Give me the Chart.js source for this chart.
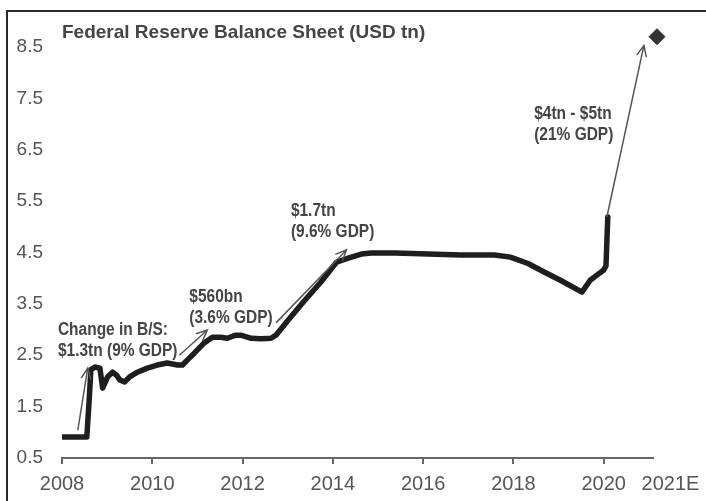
<!DOCTYPE html>
<html>
<head>
<meta charset="utf-8">
<title>Federal Reserve Balance Sheet</title>
<script src="https://cdn.jsdelivr.net/npm/chart.js@4.4.1/dist/chart.umd.min.js"></script>
<style>
    html, body { margin: 0; padding: 0; background: #fff; }
    #wrap { width: 706px; height: 501px; position: relative; }
</style>
</head>
<body>
<div id="wrap"><canvas id="fed-chart"></canvas></div>
<script>
// Balance sheet in USD tn (x = decimal year)
const years = [
    2008.00, 2008.30, 2008.55, 2008.60, 2008.64, 2008.73, 2008.84, 2008.90,
    2009.01, 2009.12, 2009.21, 2009.28, 2009.39, 2009.50, 2009.67, 2009.89,
    2010.11, 2010.33, 2010.56, 2010.67, 2010.78, 2010.93, 2011.15, 2011.33,
    2011.52, 2011.66, 2011.85, 2011.96, 2012.19, 2012.41, 2012.63, 2012.74,
    2012.98, 2013.35, 2013.73, 2014.08, 2014.34, 2014.63, 2014.85, 2015.38,
    2016.11, 2016.83, 2017.58, 2017.93, 2018.31, 2018.68, 2019.04, 2019.52,
    2019.70, 2019.85, 2020.00, 2020.05, 2020.09
];
const balance = [
    0.91, 0.91, 0.91, 1.60, 2.22, 2.27, 2.25, 1.86,
    2.08, 2.17, 2.11, 2.02, 1.98, 2.08, 2.17, 2.25,
    2.31, 2.35, 2.31, 2.31, 2.41, 2.54, 2.74, 2.85,
    2.85, 2.83, 2.89, 2.89, 2.83, 2.82, 2.83, 2.89,
    3.15, 3.54, 3.92, 4.31, 4.39, 4.47, 4.49, 4.49,
    4.47, 4.45, 4.45, 4.41, 4.29, 4.12, 3.96, 3.73,
    3.96, 4.06, 4.16, 4.24, 5.19
];

// 2021 estimate
const forecastYears = [2021.18];
const forecastValues = [8.7];

// Tick labels
const xTickValues = [2008, 2010, 2012, 2014, 2016, 2018, 2020, 2021.48];
const xTickLabels = ['2008', '2010', '2012', '2014', '2016', '2018', '2020', '2021E'];
const yTickValues = [0.5, 1.5, 2.5, 3.5, 4.5, 5.5, 6.5, 7.5, 8.5];

const chartTitle = 'Federal Reserve Balance Sheet (USD tn)';

// Notes: text lines, first baseline anchor (year, value), arrow tail and head
const noteLines = [
    ['Change in B/S:', '$1.3tn (9% GDP)'],
    ['$560bn', '(3.6% GDP)'],
    ['$1.7tn', '(9.6% GDP)'],
    ['$4tn - $5tn', '(21% GDP)']
];
const noteAnchors = [[2007.91, 2.89], [2010.82, 3.54], [2013.07, 5.21], [2018.46, 7.10]];
const arrowFrom = [[2008.35, 1.04], [2010.60, 2.50], [2012.74, 3.13], [2020.07, 5.19]];
const arrowTo = [[2008.57, 2.25], [2011.22, 2.99], [2014.30, 4.55], [2020.89, 8.53]];

const FONT = "'Liberation Sans Narrow', 'Arial Narrow', 'Liberation Sans', Arial, sans-serif";
const TEXT_COLOR = '#4d4d4d';

Chart.defaults.font.family = FONT;
Chart.defaults.color = TEXT_COLOR;

// Frame, title, notes and arrows
const notesPlugin = {
    id: 'notes',
    afterDraw(chart) {
        const ctx = chart.ctx;
        const xs = chart.scales.x;
        const ys = chart.scales.y;
        ctx.save();

        // frame
        ctx.strokeStyle = '#2a2a2a';
        ctx.lineWidth = 2;
        ctx.beginPath();
        ctx.moveTo(7, chart.height);
        ctx.lineTo(7, 11);
        ctx.lineTo(chart.width, 11);
        ctx.stroke();

        // title
        ctx.fillStyle = '#454545';
        ctx.font = 'bold 19px ' + FONT;
        ctx.textAlign = 'left';
        ctx.textBaseline = 'alphabetic';
        ctx.fillText(chartTitle, 62, 38);

        // notes (squeezed a little, the original face is a narrow one)
        ctx.font = 'bold 18px ' + FONT;
        noteLines.forEach((lines, i) => {
            const x = xs.getPixelForValue(noteAnchors[i][0]);
            const y = ys.getPixelForValue(noteAnchors[i][1]);
            lines.forEach((t, j) => {
                ctx.save();
                ctx.translate(x, y + j * 21);
                ctx.scale(0.86, 1);
                ctx.fillText(t, 0, 0);
                ctx.restore();
            });
        });

        // arrows
        ctx.strokeStyle = '#555';
        ctx.lineWidth = 1.5;
        arrowFrom.forEach((from, i) => {
            const x1 = xs.getPixelForValue(from[0]);
            const y1 = ys.getPixelForValue(from[1]);
            const x2 = xs.getPixelForValue(arrowTo[i][0]);
            const y2 = ys.getPixelForValue(arrowTo[i][1]);
            const a = Math.atan2(y2 - y1, x2 - x1);
            const head = 12;
            ctx.beginPath();
            ctx.moveTo(x1, y1);
            ctx.lineTo(x2, y2);
            ctx.moveTo(x2 - head * Math.cos(a - 0.42), y2 - head * Math.sin(a - 0.42));
            ctx.lineTo(x2, y2);
            ctx.lineTo(x2 - head * Math.cos(a + 0.42), y2 - head * Math.sin(a + 0.42));
            ctx.stroke();
        });

        ctx.restore();
    }
};

const ctx = document.getElementById('fed-chart').getContext('2d');

new Chart(ctx, {
    type: 'scatter',
    data: {
        datasets: [
            {
                label: 'Balance sheet',
                data: years.map((x, i) => ({ x: x, y: balance[i] })),
                showLine: true,
                borderColor: '#1e1e1e',
                borderWidth: 5.5,
                borderJoinStyle: 'round',
                borderCapStyle: 'round',
                pointRadius: 0,
                tension: 0
            },
            {
                label: '2021E',
                data: forecastYears.map((x, i) => ({ x: x, y: forecastValues[i] })),
                pointStyle: 'rectRot',
                pointRadius: 8,
                backgroundColor: '#333',
                borderColor: '#333',
                clip: false
            }
        ]
    },
    options: {
        responsive: true,
        maintainAspectRatio: false,
        animation: false,
        layout: {
            padding: { top: 11, right: 50, bottom: 0, left: 0 }
        },
        plugins: {
            legend: { display: false },
            tooltip: { enabled: false }
        },
        scales: {
            x: {
                type: 'linear',
                min: 2008,
                max: 2021.1,
                afterBuildTicks: (scale) => {
                    scale.ticks = xTickValues.map(v => ({ value: v }));
                },
                afterFit: (scale) => { scale.height = 43; },
                ticks: {
                    autoSkip: false,
                    maxRotation: 0,
                    padding: 8,
                    color: '#555',
                    font: { size: 20 },
                    callback: (value, index) => xTickLabels[index]
                },
                grid: {
                    drawOnChartArea: false,
                    drawTicks: true,
                    tickLength: 6,
                    lineWidth: 2,
                    color: (c) => (c.index === xTickValues.length - 1 ? 'rgba(0,0,0,0)' : '#666')
                },
                border: { display: true, color: '#666', width: 2 }
            },
            y: {
                min: 0.5,
                max: 9.2,
                afterBuildTicks: (scale) => {
                    scale.ticks = yTickValues.map(v => ({ value: v }));
                },
                afterFit: (scale) => {
                    scale.width = 62;
                    scale.paddingTop = 0;
                    scale.paddingBottom = 0;
                },
                ticks: {
                    padding: 19,
                    color: '#555',
                    font: { size: 19 },
                    callback: (value) => value.toFixed(1)
                },
                grid: { display: false, drawTicks: false },
                border: { display: false }
            }
        }
    },
    plugins: [notesPlugin]
});
</script>
</body>
</html>
